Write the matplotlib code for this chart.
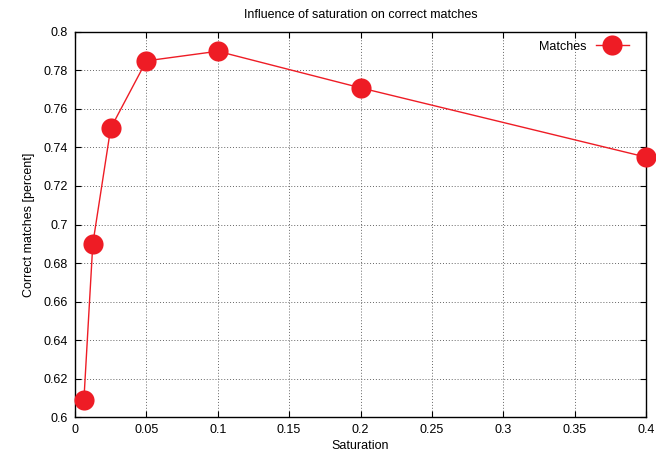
import matplotlib
matplotlib.use("Agg")
import matplotlib.pyplot as plt
import numpy as np

plt.rcParams['font.family'] = ['Liberation Sans', 'DejaVu Sans']

saturation = [0.00625, 0.0125, 0.025, 0.05, 0.1, 0.2, 0.4]
matches = [0.609, 0.690, 0.750, 0.785, 0.790, 0.771, 0.735]
xticks = [0, 0.05, 0.1, 0.15, 0.2, 0.25, 0.3, 0.35, 0.4]
yticks = [0.6, 0.62, 0.64, 0.66, 0.68, 0.7, 0.72, 0.74, 0.76, 0.78, 0.8]
xtick_labels = ["0", "0.05", "0.1", "0.15", "0.2", "0.25", "0.3", "0.35", "0.4"]
ytick_labels = ["0.6", "0.62", "0.64", "0.66", "0.68", "0.7", "0.72", "0.74", "0.76", "0.78", "0.8"]

fig = plt.figure(figsize=(6.56, 4.57), dpi=100)
ax = fig.add_axes([0.1143, 0.0875, 0.8705, 0.8425])

color = '#ee1c25'
ax.plot(saturation, matches, '-o', color=color, lw=1.0, markersize=14.5,
        markeredgewidth=0, label='Matches', clip_on=False, zorder=3)

ax.set_xlim(0, 0.4)
ax.set_ylim(0.6, 0.8)
ax.set_xticks(xticks)
ax.set_xticklabels(xtick_labels)
ax.set_yticks(yticks)
ax.set_yticklabels(ytick_labels)
ax.tick_params(direction='in', top=True, right=True, labelsize=9, length=4, width=0.8, pad=5)
ax.grid(True, linestyle=(0, (1, 2)), color='#666666', lw=0.7)
for s in ax.spines.values():
    s.set_linewidth(1.0)

ax.set_xlabel('Saturation', fontsize=9, labelpad=3)
ax.set_ylabel('Correct matches [percent]', fontsize=9, labelpad=6)
ax.set_title('Influence of saturation on correct matches', fontsize=9, pad=10)

ax.legend(loc='upper right', frameon=False, markerfirst=False, fontsize=9,
          handlelength=2.6, borderaxespad=0.3, bbox_to_anchor=(0.985, 1.0))

fig.savefig('out.png', dpi=100)
